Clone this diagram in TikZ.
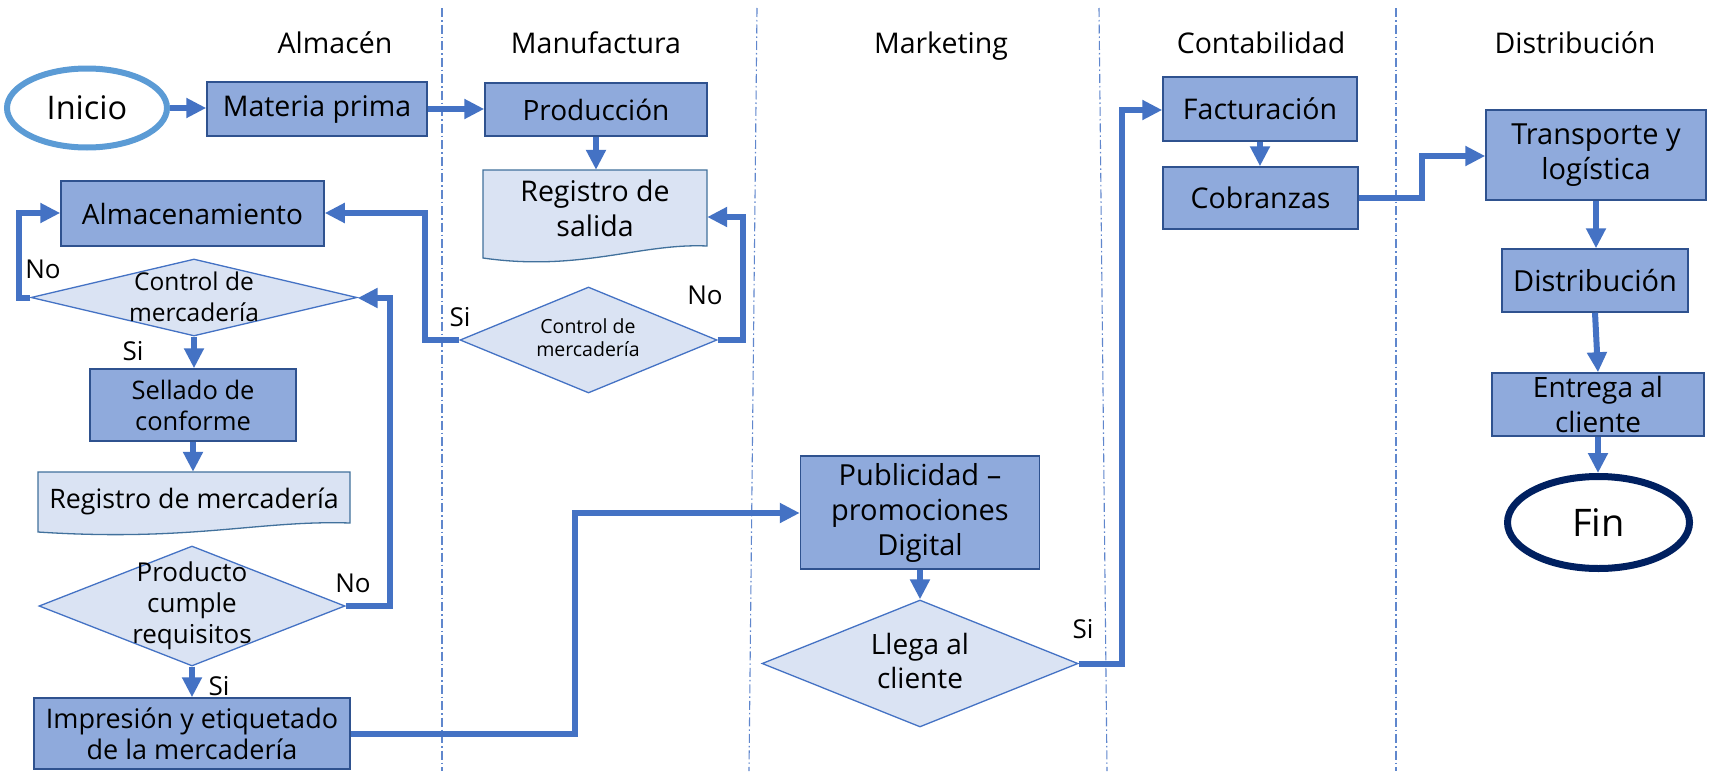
\documentclass[tikz,border=0pt]{standalone}
\usepackage{fontspec}
\setmainfont{Open Sans}
\usetikzlibrary{shapes.geometric, arrows.meta, calc}
\definecolor{procfill}{HTML}{8FAADC}
\definecolor{procdraw}{HTML}{2F528F}
\definecolor{lightfill}{HTML}{DAE3F3}
\definecolor{accent}{HTML}{4472C4}
\definecolor{docdraw}{HTML}{41719C}
\definecolor{inicioc}{HTML}{5B9BD5}
\definecolor{finc}{HTML}{002060}
\begin{document}
\begin{tikzpicture}[x=1pt, y=-1pt,
  proc/.style={rectangle, fill=procfill, draw=procdraw, line width=1.5pt, align=center, inner sep=0pt, font=\fontsize{28.5}{35}\selectfont},
  dec/.style={diamond, fill=lightfill, draw=accent, line width=1.3pt, inner sep=0pt},
  docshape/.style={fill=lightfill, draw=docdraw, line width=1.3pt},
  docnode/.style={rectangle, inner sep=0pt, align=center, font=\fontsize{28.5}{35}\selectfont},
  dectext/.style={align=center, inner sep=0pt},
  conn/.style={draw=accent, line width=6pt, -{Triangle[length=20pt,width=19pt]}},
  lane/.style={draw=accent!85, line width=1.1pt, dash pattern=on 9pt off 3pt on 1.5pt off 3pt},
  lanelbl/.style={anchor=base, inner sep=0pt, font=\fontsize{28.5}{34}\selectfont},
  yn/.style={anchor=base, inner sep=0pt, font=\fontsize{26}{30}\selectfont},
  term/.style={ellipse, fill=white, inner sep=0pt},
]
\useasboundingbox (0,0) rectangle (1710,771);
\fill[white] (0,0) rectangle (1710,771);

% lanes
\draw[lane] (442,8) -- (442,771);
\draw[lane] (757,8) -- (749,771);
\draw[lane] (1099,8) -- (1107,771);
\draw[lane] (1396,8) -- (1396,771);

\node[lanelbl] (lA) at (335,53) {Almacén};
\node[lanelbl] (lM) at (596,53) {Manufactura};
\node[lanelbl] (lK) at (941,53) {Marketing};
\node[lanelbl] (lC) at (1261,53) {Contabilidad};
\node[lanelbl] (lD) at (1575,53) {Distribución};

% document shapes
\draw[docshape] (483,170) -- (707,170) -- (707,246) .. controls (640,243) and (580,272) .. (483,258) -- cycle;
\draw[docshape] (38,472) -- (350,472) -- (350,523) .. controls (260,520) and (190,542) .. (38,532) -- cycle;

% nodes
\node[term, draw=inicioc, line width=6pt, minimum width=160pt, minimum height=79pt, font=\fontsize{32.5}{38}\selectfont] (inicio) at (87,108) {Inicio};
\node[proc, minimum width=220pt, minimum height=54pt] (materia) at (317,109) {Materia prima};
\node[proc, minimum width=222pt, minimum height=53pt, font=\fontsize{28}{35}\selectfont] (produccion) at (596,109.5) {Producción};
\node[docnode, minimum width=224pt, minimum height=76pt] (regsal) at (595,208) {Registro de\\salida};
\node[dec, minimum width=257pt, minimum height=106pt] (control2) at (588.5,340) {};
\node[dectext, font=\fontsize{19.5}{23}\selectfont] (control2t) at (588,338) {Control de\\mercadería};
\node[proc, minimum width=263pt, minimum height=65pt, font=\fontsize{28}{35}\selectfont] (almac) at (192.5,213.5) {Almacenamiento};
\node[dec, minimum width=326pt, minimum height=77pt] (control1) at (194,297.5) {};
\node[dectext, font=\fontsize{24.5}{31}\selectfont] (control1t) at (194,297) {Control de\\mercadería};
\node[proc, minimum width=206pt, minimum height=72pt, font=\fontsize{25.5}{31}\selectfont] (sellado) at (193,405) {Sellado de\\conforme};
\node[docnode, minimum width=312pt, minimum height=51pt] (regmerc) at (194,497.5) {};
\node[dectext, font=\fontsize{26.8}{31}\selectfont] (regmerct) at (194,501.5) {Registro de mercadería};
\node[dec, minimum width=306pt, minimum height=120pt] (producto) at (192,606) {};
\node[dectext, font=\fontsize{26}{31}\selectfont] (productot) at (192,606) {Producto\\cumple\\requisitos};
\node[proc, minimum width=316pt, minimum height=71pt, font=\fontsize{27}{31}\selectfont] (impresion) at (192,733.5) {Impresión y etiquetado\\de la mercadería};
\node[proc, minimum width=239pt, minimum height=113pt, font=\fontsize{29}{35}\selectfont] (publicidad) at (920,512.5) {Publicidad –\\promociones\\Digital};
\node[dec, minimum width=316pt, minimum height=127pt] (llega) at (920,663.5) {};
\node[dectext, font=\fontsize{28}{34}\selectfont] (llegat) at (920,661) {Llega al\\cliente};
\node[proc, minimum width=194pt, minimum height=64pt] (factur) at (1260,109) {Facturación};
\node[proc, minimum width=195pt, minimum height=62pt] (cobr) at (1260.5,198) {Cobranzas};
\node[proc, minimum width=220pt, minimum height=90pt, font=\fontsize{29}{35}\selectfont] (transp) at (1596,155) {Transporte y\\logística};
\node[proc, minimum width=186pt, minimum height=63pt, font=\fontsize{29}{35}\selectfont] (distrib) at (1595,280.5) {Distribución};
\node[proc, minimum width=212pt, minimum height=63pt, font=\fontsize{28}{35}\selectfont] (entrega) at (1598,404.5) {Entrega al\\cliente};
\node[term, draw=finc, line width=7pt, minimum width=182pt, minimum height=92pt, font=\fontsize{38}{44}\selectfont] (fin) at (1598.5,522.5) {Fin};

% bend coordinates
\coordinate (c4) at (743,217);
\coordinate (c5) at (425,213);
\coordinate (c6) at (19,213);
\coordinate (c9) at (390,298);
\coordinate (c11) at (575,513);
\coordinate (c13) at (1122,110);
\coordinate (c15) at (1422,156);

% connectors
\draw[conn] (inicio.east) -- (inicio.east -| materia.west);
\draw[conn] (materia.east) -- (materia.east -| produccion.west);
\draw[conn] (produccion.south) -- (produccion.south |- regsal.north);
\draw[conn] (control2.east) -| (c4) -- (c4 -| regsal.east);
\draw[conn] (control2.west) -| (c5) -- (c5 -| almac.east);
\draw[conn] (control1.west) -| (c6) -- (c6 -| almac.west);
\draw[conn] (control1.south) -- (control1.south |- sellado.north);
\draw[conn] (sellado.south) -- (sellado.south |- regmerc.north);
\draw[conn] (producto.east) -| (c9) -- (c9 -| control1.east);
\draw[conn] (producto.south) -- (producto.south |- impresion.north);
\draw[conn] (impresion.east) -| (c11) -- (c11 -| publicidad.west);
\draw[conn] (publicidad.south) -- (publicidad.south |- llega.north);
\draw[conn] (llega.east) -| (c13) -- (c13 -| factur.west);
\draw[conn] (factur.south) -- (factur.south |- cobr.north);
\draw[conn] (cobr.east) -| (c15) -- (c15 -| transp.west);
\draw[conn] (transp.south) -- (transp.south |- distrib.north);
\draw[conn] (distrib.south) -- (entrega.north);
\draw[conn] (entrega.south) -- (entrega.south |- fin.north);

% yes/no labels
\node[yn] (no1) at (43,278) {No};
\node[yn] (si1) at (133,360) {Si};
\node[yn] (si2) at (460,326) {Si};
\node[yn] (no2) at (705,304) {No};
\node[yn] (no3) at (353,592) {No};
\node[yn] (si3) at (219,695) {Si};
\node[yn] (si4) at (1083,638) {Si};
\end{tikzpicture}
\end{document}
